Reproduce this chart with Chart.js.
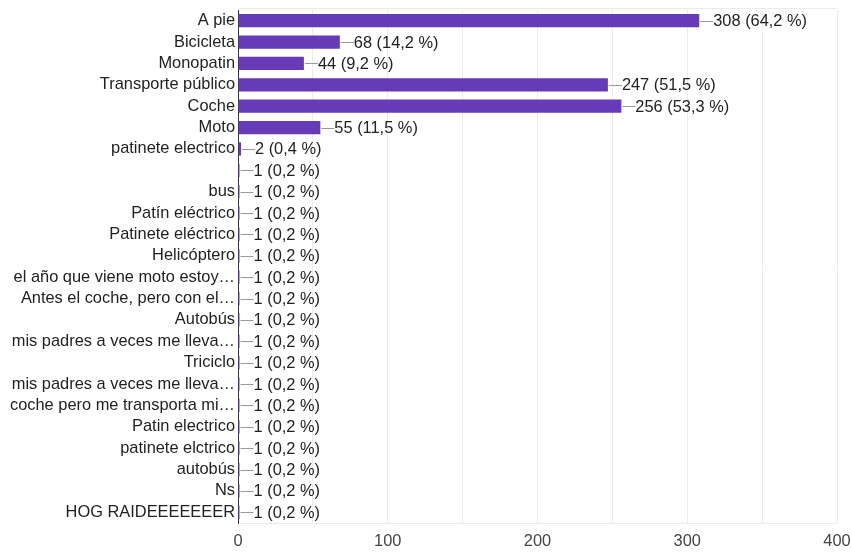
<!DOCTYPE html>
<html><head><meta charset="utf-8">
<script src="https://cdn.jsdelivr.net/npm/chart.js@4/dist/chart.umd.min.js"></script>
<style>html,body{margin:0;padding:0;background:#fff}#wrap{width:851px;height:553px}</style>
</head><body><div id="wrap"><canvas id="c"></canvas></div>
<script>
const categories = ["A pie","Bicicleta","Monopatin","Transporte público","Coche","Moto","patinete electrico","","bus","Patín eléctrico","Patinete eléctrico","Helicóptero","el año que viene moto estoy…","Antes el coche, pero con el…","Autobús","mis padres a veces me lleva…","Triciclo","mis padres a veces me lleva…","coche pero me transporta mi…","Patin electrico","patinete elctrico","autobús","Ns","HOG RAIDEEEEEEER"];
const counts = [308,68,44,247,256,55,2,1,1,1,1,1,1,1,1,1,1,1,1,1,1,1,1,1];
const percents = ["64,2","14,2","9,2","51,5","53,3","11,5","0,4","0,2","0,2","0,2","0,2","0,2","0,2","0,2","0,2","0,2","0,2","0,2","0,2","0,2","0,2","0,2","0,2","0,2"];
const xTicks = [0,100,200,300,400];
const FONT = "'Liberation Sans', Arial, sans-serif";
const FS = 16.4;

const annot = {
  id:'annot',
  afterDatasetsDraw(chart){
    const ctx = chart.ctx, meta = chart.getDatasetMeta(0), ca = chart.chartArea;
    ctx.save();
    ctx.strokeStyle = '#ebebeb'; ctx.lineWidth = 1;
    ctx.beginPath(); ctx.moveTo(ca.left, Math.round(ca.top)-1.5); ctx.lineTo(ca.right, Math.round(ca.top)-1.5); ctx.stroke();
    ctx.font = FS + 'px ' + FONT; ctx.textBaseline = 'middle'; ctx.textAlign = 'left';
    meta.data.forEach((bar, i) => {
      const x = bar.x, y = bar.y;
      ctx.strokeStyle = '#999'; ctx.lineWidth = 1;
      ctx.beginPath(); ctx.moveTo(x+1, Math.round(y)+0.5); ctx.lineTo(x+14, Math.round(y)+0.5); ctx.stroke();
      ctx.fillStyle = '#222';
      ctx.fillText(counts[i] + ' (' + percents[i] + ' %)', x+14, y+1);
    });
    ctx.restore();
  }
};

new Chart(document.getElementById('c'), {
  type:'bar',
  data:{ labels: categories, datasets:[{ data: counts, backgroundColor:'#673ab7', borderWidth:0, barPercentage:0.62, categoryPercentage:1 }]},
  options:{
    indexAxis:'y', responsive:true, maintainAspectRatio:false, animation:false,
    layout:{ padding:{ left:0, right:0, top:10, bottom:0 } },
    plugins:{ legend:{display:false}, tooltip:{enabled:false} },
    scales:{
      x:{ min:0, max:400, afterBuildTicks(s){ s.ticks = []; for(let v=0; v<=400; v+=50) s.ticks.push({value:v}); },
        grid:{ color:'#ebebeb', drawTicks:false, lineWidth:1 },
        border:{ color:'#ebebeb' },
        ticks:{ color:'#444', font:{ family:FONT, size:FS }, padding:9, autoSkip:false, maxRotation:0,
          callback(v){ return xTicks.includes(v) ? String(v) : ''; } },
        afterFit(s){ s.height = 30; s.paddingRight = 14; s.paddingLeft = 0; } },
      y:{ grid:{ display:false, drawTicks:false },
        border:{ color:'#333', width:1 },
        ticks:{ color:'#222', font:{ family:FONT, size:FS }, padding:3, autoSkip:false },
        afterFit(s){ s.width = 238; s.paddingTop = 0; s.paddingBottom = 0; } }
    }
  },
  plugins:[annot]
});
</script></body></html>
